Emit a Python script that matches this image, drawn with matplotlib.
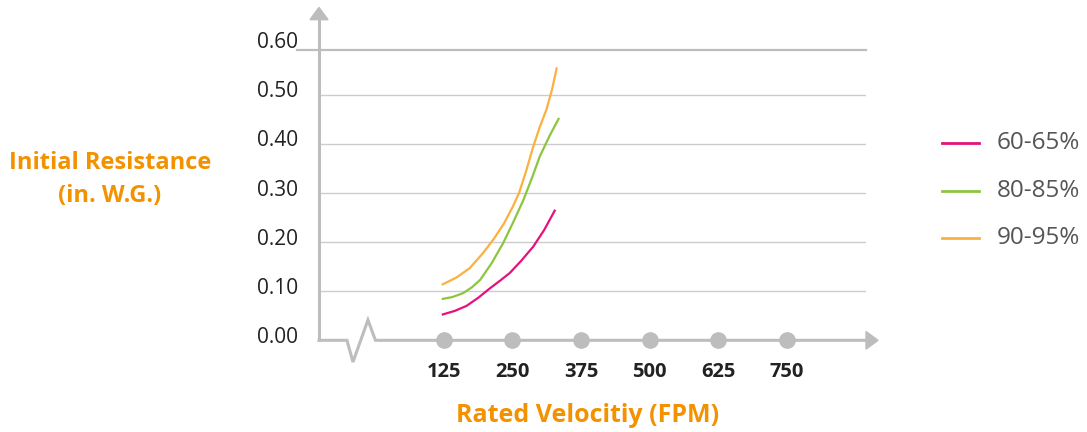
import matplotlib
matplotlib.use("Agg")
import matplotlib.pyplot as plt
from matplotlib.patches import Polygon
import numpy as np

# data
x_ticks = [125, 250, 375, 500, 625, 750]
y_ticks = [0.0, 0.1, 0.2, 0.3, 0.4, 0.5, 0.6]

x_60 = [121, 145, 166, 188, 209, 228, 245, 266, 288, 308, 328]
y_60 = [0.052, 0.060, 0.070, 0.087, 0.106, 0.122, 0.137, 0.162, 0.191, 0.225, 0.266]

x_80 = [121, 140, 160, 176, 191, 212, 233, 252, 270, 286, 300, 318, 335]
y_80 = [0.084, 0.088, 0.096, 0.108, 0.123, 0.157, 0.198, 0.242, 0.286, 0.332, 0.375, 0.417, 0.453]

x_90 = [121, 148, 172, 195, 215, 234, 251, 262, 275, 288, 300, 312, 322, 331]
y_90 = [0.113, 0.128, 0.147, 0.176, 0.205, 0.237, 0.273, 0.300, 0.345, 0.395, 0.435, 0.470, 0.510, 0.556]

series = [("60-65%", x_60, y_60, "#e5127d"),
          ("80-85%", x_80, y_80, "#8cc63f"),
          ("90-95%", x_90, y_90, "#fbb040")]

plt.rcParams['font.family'] = ['Open Sans', 'DejaVu Sans']

W, H = 1087, 432
fig = plt.figure(figsize=(W / 100, H / 100), dpi=100)
# axes area in pixels: x 319..866, y 45.7..340.3
ax = fig.add_axes([319 / W, (H - 340.3) / H, 547 / W, 294.6 / H])
ax.set_xlim(-103, 895)
ax.set_ylim(0, 0.6)
ax.axis('off')

axis_col = "#bdbdbd"
grid_col = "#cccccc"

# grid lines
for v in y_ticks[1:-1]:
    ax.plot([-103, 895], [v, v], color=grid_col, lw=1.0, zorder=1)
ax.plot([-143, 895], [0.591, 0.591], color=axis_col, lw=1.6, zorder=1, clip_on=False)

# y axis with arrow
ax.plot([-103, -103], [0, 0.655], color=axis_col, lw=2.2, clip_on=False, zorder=2)
ax.add_patch(Polygon([[-119.5, 0.653], [-86.5, 0.653], [-103, 0.678]], closed=True,
                     color=axis_col, clip_on=False, zorder=2))

# x axis with break and arrow
bx = [-103, -52, -41, -13.7, 0, 897]
by = [0, 0, -0.0443, 0.0414, 0, 0]
ax.plot(bx, by, color=axis_col, lw=2.2, clip_on=False, zorder=2, solid_joinstyle='miter')
ax.add_patch(Polygon([[895, 0.018], [895, -0.018], [917, 0]], closed=True,
                     color=axis_col, clip_on=False, zorder=2))

ax.plot(x_ticks, [0] * len(x_ticks), 'o', ms=11, color=axis_col, clip_on=False, zorder=3)

for name, xs, ys, c in series:
    ax.plot(xs, ys, color=c, lw=1.6, zorder=4, clip_on=False,
            solid_joinstyle='round', solid_capstyle='butt')

# tick labels
for t in x_ticks:
    ax.annotate(str(t), (t, 0), xytext=(0, -32), textcoords='offset pixels',
                ha='center', va='center', fontsize=14.5, fontweight='bold', color="#222222")
for v in y_ticks:
    ax.annotate("%.2f" % v, (-103, v), xytext=(-21, 3), textcoords='offset pixels',
                ha='right', va='center', fontsize=15, color="#222222")

# legend
for i, (name, xs, ys, c) in enumerate(series):
    py = 143.3 + i * 47.5
    fig.add_artist(plt.Line2D([942 / W, 979 / W], [(H - py) / H] * 2, color=c, lw=2.0))
    fig.text(997 / W, (H - py) / H, name, ha='left', va='center', fontsize=17.5, color="#555555")

orange = "#f39200"
fig.text(110 / W, (H - 163) / H, "Initial Resistance", ha='center', va='center',
         fontsize=17, fontweight='bold', color=orange)
fig.text(110 / W, (H - 196) / H, "(in. W.G.)", ha='center', va='center',
         fontsize=17, fontweight='bold', color=orange)
fig.text(588 / W, (H - 416) / H, "Rated Velocitiy (FPM)", ha='center', va='center',
         fontsize=18, fontweight='bold', color=orange)

fig.savefig("out.png", dpi=100)
